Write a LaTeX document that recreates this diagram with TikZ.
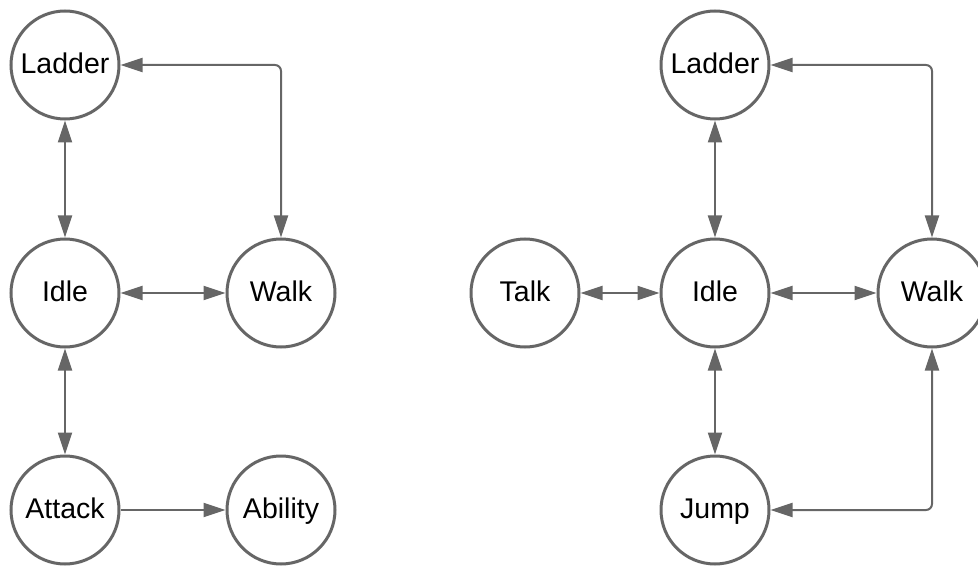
\documentclass[tikz,border=0pt]{standalone}
\usepackage{fontspec}
\setmainfont{Liberation Sans}
\usetikzlibrary{arrows.meta}
\definecolor{edgegray}{HTML}{666666}
\begin{document}
\begin{tikzpicture}[x=1pt,y=-1pt,
  state/.style={circle, draw=edgegray, line width=3pt, fill=white,
    minimum size=108pt, inner sep=0pt,
    text height=20pt, text depth=2.6pt,
    font=\fontsize{28.5}{32}\selectfont, text=black},
  link/.style={draw=edgegray, line width=2pt,
    -{Triangle[length=22pt,width=14pt]}},
  bilink/.style={draw=edgegray, line width=2pt,
    {Triangle[length=22pt,width=14pt]}-{Triangle[length=22pt,width=14pt]}},
  elbow/.style={rounded corners=6pt}]
\useasboundingbox (0,0) rectangle (978,567);

% left state machine
\node[state] (lladder) at (65,65) {Ladder};
\node[state] (lidle)   at (65,293) {Idle};
\node[state] (lwalk)   at (281,293) {Walk};
\node[state] (lattack) at (65,510) {Attack};
\node[state] (lability) at (281,510) {Ability};

\draw[bilink] (lladder) -- (lidle);
\draw[bilink] (lidle) -- (lattack);
\draw[bilink] (lidle) -- (lwalk);
\draw[link] (lattack) -- (lability);
\draw[bilink, elbow] (lwalk.north) |- (lladder.east);

% right state machine
\node[state] (rladder) at (715,65) {Ladder};
\node[state] (rtalk)   at (525,293) {Talk};
\node[state] (ridle)   at (715,293) {Idle};
\node[state] (rwalk)   at (932,293) {Walk};
\node[state] (rjump)   at (715,510) {Jump};

\draw[bilink] (rladder) -- (ridle);
\draw[bilink] (ridle) -- (rjump);
\draw[bilink] (rtalk) -- (ridle);
\draw[bilink] (ridle) -- (rwalk);
\draw[bilink, elbow] (rwalk.north) |- (rladder.east);
\draw[bilink, elbow] (rwalk.south) |- (rjump.east);
\end{tikzpicture}
\end{document}
